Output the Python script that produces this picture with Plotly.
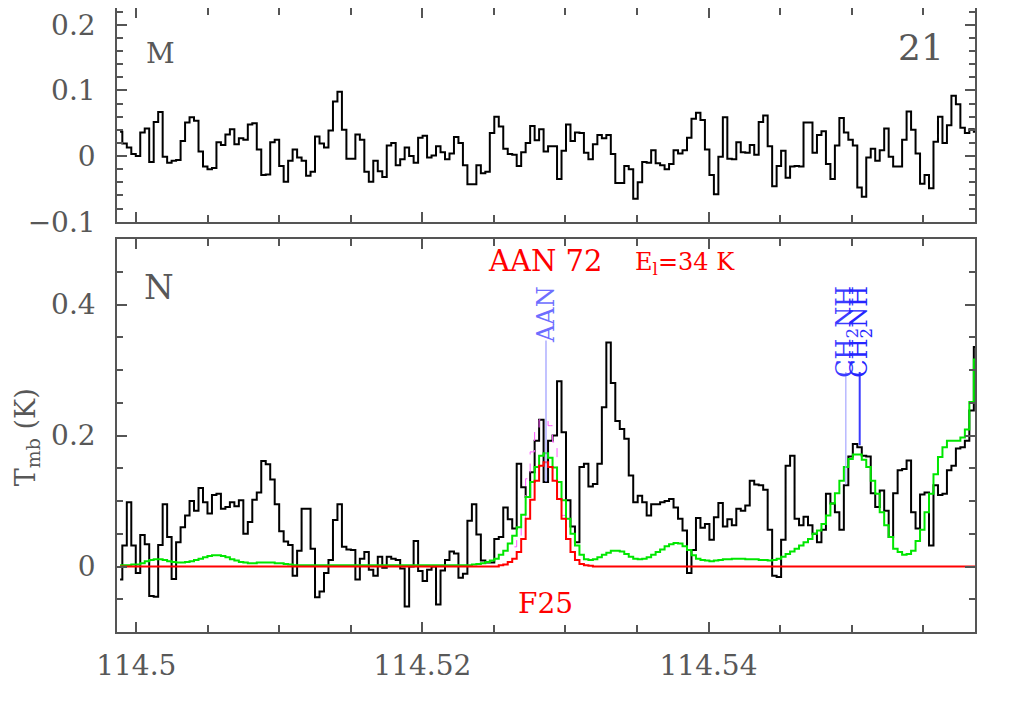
import numpy as np
import plotly.graph_objects as go

# ---------------- data ----------------
CHAN0_GHZ = 114.4988656      # centre of first channel (GHz)
CHAN_WIDTH_GHZ = 0.00031329  # channel width (GHz)
X_RANGE = [114.49865, 114.55863]

# Panel "M" (top) observed spectrum, T_mb (K)
top_tmb = [
    0.037, 0.019, 0.013, 0.003, 0.000, 0.036, 0.042, -0.009, 0.052, 0.067,
    -0.001, -0.010, -0.007, -0.006, 0.023, 0.051, 0.059, 0.054, 0.007, -0.016,
    -0.020, -0.018, 0.021, 0.017, 0.033, 0.041, 0.018, 0.027, 0.025, 0.048,
    0.050, 0.010, -0.029, -0.028, 0.021, 0.025, -0.015, -0.039, -0.007, 0.010,
    -0.002, -0.007, -0.030, -0.024, 0.030, 0.019, 0.013, 0.039, 0.083, 0.098,
    0.040, -0.004, -0.004, 0.033, 0.025, -0.024, -0.039, -0.007, -0.023, -0.032,
    0.016, 0.020, -0.014, -0.005, 0.013, 0.000, -0.010, 0.028, 0.031, -0.002,
    0.001, 0.015, 0.006, -0.005, 0.004, 0.029, 0.020, -0.014, -0.043, -0.043,
    -0.014, -0.026, -0.024, 0.035, 0.060, 0.045, 0.011, 0.003, 0.002, -0.015,
    0.006, 0.020, 0.046, 0.024, 0.041, 0.007, 0.015, 0.015, -0.035, 0.008,
    0.048, 0.023, 0.036, 0.035, 0.005, -0.005, 0.018, 0.032, 0.027, 0.032,
    0.003, -0.041, -0.041, -0.015, -0.020, -0.065, -0.040, -0.009, -0.010, 0.009,
    -0.011, -0.014, -0.020, -0.012, 0.009, 0.004, 0.009, 0.028, 0.057, 0.066,
    0.055, 0.010, -0.029, -0.058, -0.001, 0.059, -0.004, -0.005, 0.021, 0.006,
    0.005, 0.017, 0.002, 0.052, 0.062, 0.015, -0.046, -0.015, 0.008, -0.033,
    -0.016, -0.015, -0.016, 0.051, 0.051, 0.005, 0.032, 0.038, -0.012, -0.035,
    0.016, 0.058, 0.036, 0.025, 0.016, -0.048, -0.062, -0.002, 0.011, -0.007,
    0.009, 0.042, -0.001, -0.016, -0.016, 0.025, 0.068, 0.040, 0.004, -0.042,
    -0.029, -0.049, 0.022, 0.060, 0.020, 0.047, 0.092, 0.079, 0.043, 0.035,
    0.041, 0.037,
]

# Panel "N" (bottom) observed spectrum, T_mb (K)
bottom_tmb = [
    -0.020, 0.032, 0.098, 0.032, -0.010, 0.048, 0.034, -0.045, -0.046, 0.033,
    0.095, 0.045, -0.019, 0.037, 0.060, 0.078, 0.100, 0.085, 0.120, 0.098,
    0.081, 0.109, 0.111, 0.088, 0.091, 0.098, 0.092, 0.101, 0.050, 0.068,
    0.102, 0.113, 0.161, 0.156, 0.133, 0.095, 0.054, 0.038, 0.033, -0.014,
    0.024, 0.088, 0.088, 0.027, -0.047, -0.038, -0.010, 0.010, 0.071, 0.095,
    0.030, 0.026, 0.025, -0.020, 0.012, 0.022, -0.005, -0.014, 0.015, -0.002,
    0.015, 0.012, 0.010, -0.003, -0.061, 0.000, 0.039, -0.007, -0.022, -0.005,
    0.000, -0.058, -0.006, 0.010, 0.023, 0.020, -0.017, -0.011, 0.070, 0.095,
    0.049, 0.009, 0.006, 0.006, 0.042, 0.045, 0.090, 0.072, 0.058, 0.157,
    0.121, 0.106, 0.144, 0.192, 0.224, 0.129, 0.192, 0.200, 0.283, 0.205,
    0.101, 0.061, 0.037, 0.152, 0.157, 0.122, 0.126, 0.157, 0.243, 0.342,
    0.280, 0.222, 0.210, 0.195, 0.139, 0.098, 0.108, 0.098, 0.078, 0.095,
    0.095, 0.098, 0.100, 0.103, 0.090, 0.073, 0.055, -0.010, 0.025, 0.074,
    0.059, 0.065, 0.041, 0.075, 0.097, 0.061, 0.072, 0.063, 0.088, 0.085,
    0.093, 0.131, 0.125, 0.124, 0.117, 0.056, -0.014, -0.016, 0.041, 0.154,
    0.169, 0.073, 0.063, 0.076, 0.063, 0.050, 0.037, 0.056, 0.111, 0.096,
    0.083, 0.056, 0.124, 0.168, 0.187, 0.182, 0.169, 0.168, 0.112, 0.091,
    0.116, 0.085, 0.045, 0.112, 0.147, 0.149, 0.162, 0.083, 0.058, 0.110,
    0.113, 0.032, 0.124, 0.109, 0.111, 0.147, 0.154, 0.180, 0.182, 0.192,
    0.238, 0.335,
]

# Full model (all molecules), green
model_all = [
    0.002, 0.002, 0.002, 0.003, 0.003, 0.005, 0.008, 0.010, 0.011, 0.011,
    0.010, 0.008, 0.007, 0.006, 0.006, 0.007, 0.008, 0.010, 0.012, 0.014,
    0.016, 0.017, 0.017, 0.016, 0.014, 0.011, 0.009, 0.007, 0.006, 0.005,
    0.005, 0.006, 0.006, 0.006, 0.006, 0.005, 0.005, 0.004, 0.003, 0.002,
    0.002, 0.002, 0.002, 0.002, 0.002, 0.002, 0.002, 0.002, 0.002, 0.002,
    0.002, 0.002, 0.002, 0.002, 0.002, 0.002, 0.002, 0.002, 0.002, 0.002,
    0.002, 0.002, 0.002, 0.002, 0.002, 0.002, 0.002, 0.002, 0.002, 0.002,
    0.002, 0.002, 0.002, 0.002, 0.002, 0.002, 0.002, 0.002, 0.002, 0.003,
    0.004, 0.005, 0.007, 0.009, 0.012, 0.018, 0.024, 0.035, 0.047, 0.060,
    0.079, 0.106, 0.129, 0.152, 0.169, 0.173, 0.166, 0.151, 0.129, 0.101,
    0.073, 0.050, 0.032, 0.018, 0.011, 0.010, 0.011, 0.014, 0.018, 0.021,
    0.024, 0.024, 0.023, 0.019, 0.015, 0.012, 0.011, 0.012, 0.014, 0.018,
    0.022, 0.026, 0.031, 0.034, 0.036, 0.035, 0.031, 0.025, 0.017, 0.012,
    0.010, 0.009, 0.008, 0.009, 0.010, 0.011, 0.011, 0.012, 0.012, 0.012,
    0.011, 0.011, 0.011, 0.010, 0.010, 0.009, 0.010, 0.012, 0.015, 0.019,
    0.023, 0.027, 0.032, 0.037, 0.042, 0.050, 0.055, 0.065, 0.078, 0.096,
    0.112, 0.131, 0.152, 0.164, 0.171, 0.171, 0.163, 0.152, 0.131, 0.111,
    0.083, 0.063, 0.045, 0.027, 0.022, 0.018, 0.019, 0.024, 0.039, 0.056,
    0.083, 0.111, 0.141, 0.167, 0.182, 0.192, 0.192, 0.192, 0.197, 0.209,
    0.251, 0.316,
]

# AAN model (F25), red: zero outside the line
model_aan = ([0.0] * 85 +
             [0.002, 0.003, 0.007, 0.012, 0.022, 0.042, 0.073, 0.102, 0.131, 0.154,
              0.159, 0.152, 0.131, 0.103, 0.073, 0.042, 0.022, 0.010, 0.004, 0.002,
              0.001] +
             [0.0] * 86)

# Alternative AAN model, magenta dashed
aan_alt_first_chan = 88
model_aan_alt = [0.030, 0.045, 0.068, 0.134, 0.175, 0.210, 0.224, 0.224, 0.215,
                 0.190, 0.106, 0.078, 0.045]

x_tickvals = [114.5, 114.52, 114.54]
x_ticktext = ["114.5", "114.52", "114.54"]
top_yticks = [-0.1, 0.0, 0.1, 0.2]
top_yticktext = ["\u22120.1", "0", "0.1", "0.2"]
bot_yticks = [0.0, 0.2, 0.4]
bot_yticktext = ["0", "0.2", "0.4"]

# line identifications
line_freqs = [114.52864, 114.54960, 114.55057]
line_names = ["AAN", "CH<sub>2</sub>NH", "CH<sub>2</sub>NH"]
line_tops = [0.345, 0.297, 0.297]
line_bottoms = [0.129, 0.125, 0.185]
line_label_y = [0.384, 0.358, 0.358]
line_colors = ["#9a9aff", "#a8a8ff", "#3a3aff"]
line_widths = [1.2, 1.2, 2.0]
label_colors = ["#6e6eff", "#3c3cff", "#2626ff"]

# ---------------- figure ----------------
freq = CHAN0_GHZ + CHAN_WIDTH_GHZ * np.arange(len(top_tmb))
FONT = "DejaVu Serif"
AX = "#555555"
TXT = "#585858"

fig = go.Figure()
fig.add_trace(go.Scatter(x=freq, y=top_tmb, mode="lines", xaxis="x2", yaxis="y2",
                         line=dict(color="black", width=2, shape="hvh"), showlegend=False))
fig.add_trace(go.Scatter(x=freq, y=bottom_tmb, mode="lines", xaxis="x", yaxis="y",
                         line=dict(color="black", width=2, shape="hvh"), showlegend=False))
fa = freq[aan_alt_first_chan:aan_alt_first_chan + len(model_aan_alt)]
fig.add_trace(go.Scatter(x=fa, y=model_aan_alt, mode="lines", xaxis="x", yaxis="y",
                         line=dict(color="#ff55ff", width=1, dash="dash", shape="hvh"),
                         showlegend=False))
fig.add_trace(go.Scatter(x=freq, y=model_all, mode="lines", xaxis="x", yaxis="y",
                         line=dict(color="#00e600", width=2, shape="hvh"), showlegend=False))
fig.add_trace(go.Scatter(x=freq, y=model_aan, mode="lines", xaxis="x", yaxis="y",
                         line=dict(color="#ff0000", width=2, shape="hvh"), showlegend=False))

for f, lo, hi, c, w in zip(line_freqs, line_bottoms, line_tops, line_colors, line_widths):
    fig.add_trace(go.Scatter(x=[f, f], y=[lo, hi], mode="lines", xaxis="x", yaxis="y",
                             line=dict(color=c, width=w), showlegend=False))

ann = []
for f, name, ly, c in zip(line_freqs, line_names, line_label_y, label_colors):
    ann.append(dict(x=f, y=ly, xref="x", yref="y", text=name, showarrow=False,
                    textangle=-90, font=dict(family=FONT, size=24, color=c),
                    xanchor="center", yanchor="middle"))

ann += [
    dict(x=114.50168, y=0.157, xref="x2", yref="y2", text="M", showarrow=False,
         font=dict(family=FONT, size=28, color=TXT)),
    dict(x=114.55487, y=0.165, xref="x2", yref="y2", text="21", showarrow=False,
         font=dict(family=FONT, size=36, color=TXT)),
    dict(x=114.50157, y=0.427, xref="x", yref="y", text="N", showarrow=False,
         font=dict(family=FONT, size=34, color=TXT)),
    dict(x=114.52857, y=0.467, xref="x", yref="y", text="AAN 72", showarrow=False,
         font=dict(family=FONT, size=29, color="#ff0000")),
    dict(x=114.53835, y=0.462, xref="x", yref="y", text="E<sub>l</sub>=34 K",
         showarrow=False, font=dict(family=FONT, size=24, color="#ff0000")),
    dict(x=114.52857, y=-0.056, xref="x", yref="y", text="F25", showarrow=False,
         font=dict(family=FONT, size=28, color="#ff0000")),
    dict(x=-0.1045, y=0.198, xref="paper", yref="y", text="T<sub>mb</sub> (K)",
         showarrow=False, textangle=-90, font=dict(family=FONT, size=27, color=TXT),
         xanchor="center", yanchor="middle"),
]

common = dict(showline=True, linecolor=AX, linewidth=1.5, mirror="ticks",
              ticks="inside", ticklen=10, tickwidth=1.5, tickcolor=AX,
              showgrid=False, zeroline=False, automargin=False,
              tickfont=dict(family=FONT, size=28, color=TXT))

# the page body adds an 8 px offset; the figure is sized to fit the window
fig.update_layout(
    width=1017, height=709,
    margin=dict(l=109, r=50, t=0, b=85),
    paper_bgcolor="white", plot_bgcolor="white",
    showlegend=False,
    annotations=ann,
    xaxis=dict(common, domain=[0, 1], range=X_RANGE, anchor="y",
               tickmode="array", tickvals=x_tickvals, ticktext=x_ticktext,
               ticklabelstandoff=8,
               minor=dict(tick0=114.5, dtick=0.005, ticks="inside", ticklen=7,
                          tickwidth=1.5, tickcolor=AX, showgrid=False)),
    xaxis2=dict(common, domain=[0, 1], range=X_RANGE, anchor="y2", matches="x",
                tickmode="array", tickvals=x_tickvals, showticklabels=False,
                minor=dict(tick0=114.5, dtick=0.005, ticks="inside", ticklen=7,
                           tickwidth=1.5, tickcolor=AX, showgrid=False)),
    yaxis=dict(common, domain=[0, 0.6298], range=[-0.1, 0.5], anchor="x",
               tickmode="array", tickvals=bot_yticks, ticktext=bot_yticktext,
               ticklabelstandoff=14,
               minor=dict(tick0=0, dtick=0.05, ticks="inside", ticklen=6,
                          tickwidth=1.5, tickcolor=AX, showgrid=False)),
    yaxis2=dict(common, domain=[0.6575, 1], range=[-0.1, 0.2256], anchor="x2",
                tickmode="array", tickvals=top_yticks, ticktext=top_yticktext,
                ticklabelstandoff=14,
                minor=dict(tick0=0, dtick=0.02, ticks="inside", ticklen=6,
                           tickwidth=1.5, tickcolor=AX, showgrid=False)),
)

fig.write_html("out.html")
